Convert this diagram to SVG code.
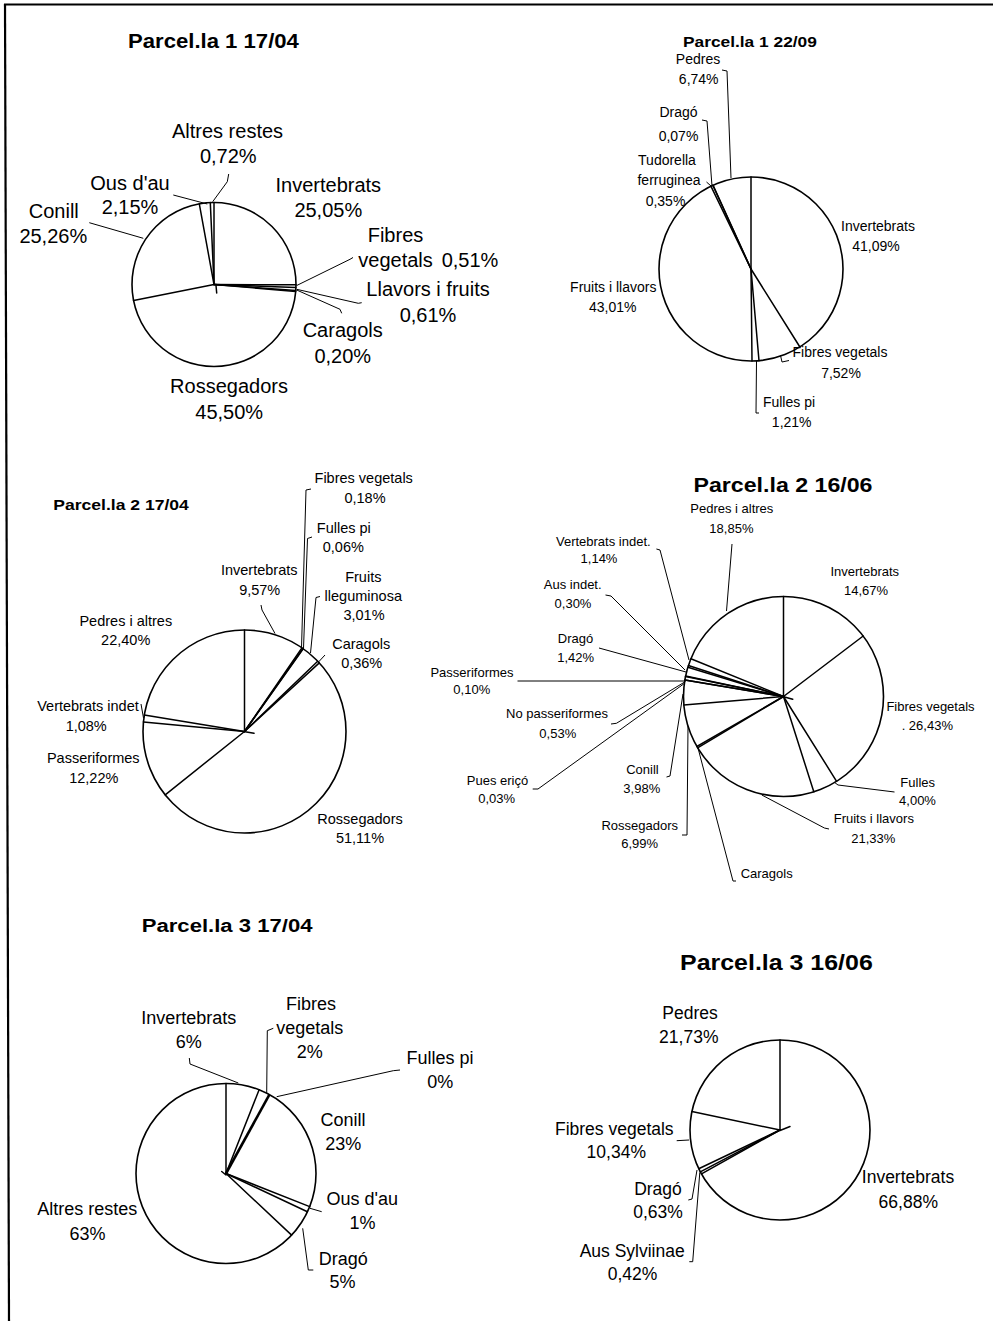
<svg xmlns="http://www.w3.org/2000/svg" width="993" height="1321" viewBox="0 0 993 1321">
<style>
.bg{fill:#fff}
.frame{stroke:#000;stroke-width:2.2;fill:none}
.pie{fill:#fff;stroke:#000;stroke-width:1.6}
.rad{stroke:#000;stroke-width:1.5;fill:none;stroke-linecap:round}
.thick{stroke:#000;stroke-width:2.6;fill:none}
.ld{stroke:#000;stroke-width:1;fill:none}
.t{font-family:"Liberation Sans",Arial,sans-serif;font-weight:bold;fill:#000}
.l{font-family:"Liberation Sans",Arial,sans-serif;fill:#000;text-anchor:middle}
.f20{font-size:20px}.f14{font-size:14px}.f145{font-size:14.5px}.f13{font-size:13px}.f18{font-size:18px}.f175{font-size:17.5px}
</style>
<rect class="bg" x="0" y="0" width="993" height="1321"/>
<g id="frame">
<line class="frame" x1="4" y1="4.5" x2="993" y2="4.5"/>
<line class="frame" x1="5" y1="4" x2="9" y2="1321"/>
</g>

<!-- Chart 1 -->
<g id="chart-p1-1704">
<text class="t" transform="translate(128,48.3) scale(1.106,1)" font-size="20">Parcel.la 1 17/04</text>
<circle class="pie" cx="214" cy="284.5" r="82"/>
<g id="p1a-slices">
<line class="rad" x1="214" y1="284.5" x2="214" y2="202.5"/>
<line class="rad" x1="214" y1="284.5" x2="296" y2="284.8"/>
<line class="rad" x1="214" y1="284.5" x2="295.9" y2="287.4"/>
<line class="rad" x1="214" y1="284.5" x2="295.8" y2="290.5"/>
<line class="rad" x1="214" y1="284.5" x2="295.7" y2="291.5"/>
<line class="rad" x1="214" y1="284.5" x2="133.6" y2="300.5"/>
<line class="rad" x1="214" y1="284.5" x2="199.3" y2="203.8"/>
<line class="rad" x1="214" y1="284.5" x2="210.3" y2="202.6"/>
<line class="rad" x1="216" y1="285.5" x2="216.7" y2="293"/>
</g>
<g id="p1a-connectors">
<polyline class="ld" points="228.7,174 227.3,181.7 212.7,201.7"/>
<line class="ld" x1="173.3" y1="195" x2="207.3" y2="204"/>
<line class="ld" x1="89.3" y1="222.7" x2="143.3" y2="238.3"/>
<polyline class="ld" points="353,257.5 350,259.3 296.7,285.5"/>
<polyline class="ld" points="361.7,302.7 358.3,303.3 296.7,289.3"/>
<polyline class="ld" points="341.7,313.3 340,309.3 296.7,290"/>
</g>
<g id="p1a-labels">
<text class="l f20" x="227.5" y="138.3">Altres restes</text>
<text class="l f20" x="228.3" y="163.3">0,72%</text>
<text class="l f20" x="328.3" y="191.7">Invertebrats</text>
<text class="l f20" x="328.3" y="216.7">25,05%</text>
<text class="l f20" x="395.5" y="241.7">Fibres</text>
<text class="l f20" x="358.3" y="266.7" style="text-anchor:start">vegetals<tspan x="441.7">0,51%</tspan></text>
<text class="l f20" x="428" y="296">Llavors i fruits</text>
<text class="l f20" x="428" y="321.7">0,61%</text>
<text class="l f20" x="342.7" y="337.3">Caragols</text>
<text class="l f20" x="342.8" y="362.7">0,20%</text>
<text class="l f20" x="229" y="393.3">Rossegadors</text>
<text class="l f20" x="229.2" y="419">45,50%</text>
<text class="l f20" x="53.8" y="218.3">Conill</text>
<text class="l f20" x="53.3" y="243.3">25,26%</text>
<text class="l f20" x="130" y="190">Ous d'au</text>
<text class="l f20" x="130" y="214">2,15%</text>
</g>
</g>

<!-- Chart 2 -->
<g id="chart-p1-2209">
<text class="t" transform="translate(683,47.3) scale(1.195,1)" font-size="14.5">Parcel.la 1 22/09</text>
<circle class="pie" cx="751" cy="269" r="92"/>
<g id="p1b-slices">
<line class="rad" x1="751" y1="269" x2="751" y2="177"/>
<line class="rad" x1="751" y1="269" x2="799.9" y2="347"/>
<line class="rad" x1="751" y1="269" x2="759" y2="360.7"/>
<line class="rad" x1="751" y1="269" x2="752" y2="361"/>
<line class="rad" x1="751" y1="269" x2="710.9" y2="186.2"/>
<line class="rad" x1="751" y1="269" x2="712.8" y2="185.3"/>
<line class="rad" x1="751" y1="269" x2="713.1" y2="185.2"/>
</g>
<g id="p1b-connectors">
<polyline class="ld" points="722,70 727,71 731,178"/>
<polyline class="ld" points="702,120 707,121 712,186"/>
<line class="ld" x1="706.5" y1="182" x2="711" y2="186"/>
<polyline class="ld" points="780.5,355.5 782,362 789,360.5"/>
<polyline class="ld" points="756.5,361 756,413 759,413"/>
</g>
<g id="p1b-labels">
<text class="l f14" x="698" y="64">Pedres</text>
<text class="l f14" x="698.7" y="84">6,74%</text>
<text class="l f14" x="678.5" y="117">Dragó</text>
<text class="l f14" x="678.5" y="141">0,07%</text>
<text class="l f14" x="667" y="165">Tudorella</text>
<text class="l f14" x="669" y="185">ferruginea</text>
<text class="l f14" x="665.5" y="206">0,35%</text>
<text class="l f14" x="878" y="231">Invertebrats</text>
<text class="l f14" x="876" y="251">41,09%</text>
<text class="l f14" x="613.3" y="291.7">Fruits i llavors</text>
<text class="l f14" x="612.7" y="311.7">43,01%</text>
<text class="l f14" x="840" y="356.7">Fibres vegetals</text>
<text class="l f14" x="841" y="378.3">7,52%</text>
<text class="l f14" x="789" y="406.7">Fulles pi</text>
<text class="l f14" x="791.7" y="427">1,21%</text>
</g>
</g>

<!-- Chart 3 -->
<g id="chart-p2-1704">
<text class="t" transform="translate(53.3,510) scale(1.17,1)" font-size="15">Parcel.la 2 17/04</text>
<circle class="pie" cx="244.5" cy="731.5" r="101.5"/>
<g id="p2a-slices">
<line class="rad" x1="244.5" y1="731.5" x2="244.5" y2="630"/>
<line class="rad" x1="244.5" y1="731.5" x2="301.9" y2="647.8"/>
<line class="rad" x1="244.5" y1="731.5" x2="302.9" y2="648.5"/>
<line class="rad" x1="244.5" y1="731.5" x2="303.2" y2="648.7"/>
<line class="rad" x1="244.5" y1="731.5" x2="317.7" y2="661.2"/>
<line class="rad" x1="244.5" y1="731.5" x2="319.3" y2="662.9"/>
<line class="rad" x1="244.5" y1="731.5" x2="165.2" y2="794.8"/>
<line class="rad" x1="244.5" y1="731.5" x2="143.5" y2="721.9"/>
<line class="rad" x1="244.5" y1="731.5" x2="144.3" y2="715.1"/>
<line class="rad" x1="245" y1="731.7" x2="254" y2="733.3"/>
</g>
<g id="p2a-connectors">
<polyline class="ld" points="311,489 306,490 301.5,648"/>
<polyline class="ld" points="312,537 307.5,538.5 303.5,648.5"/>
<polyline class="ld" points="261,605 262,610 275,633.5"/>
<polyline class="ld" points="320,596.5 316,597.5 310.5,653"/>
<line class="ld" x1="325" y1="655" x2="318.5" y2="662"/>
<line class="ld" x1="141" y1="704" x2="143.5" y2="718"/>
</g>
<g id="p2a-labels">
<text class="l f145" x="363.7" y="483.3">Fibres vegetals</text>
<text class="l f145" x="365" y="503.3">0,18%</text>
<text class="l f145" x="343.8" y="533.3">Fulles pi</text>
<text class="l f145" x="343.3" y="551.7">0,06%</text>
<text class="l f145" x="259.2" y="575">Invertebrats</text>
<text class="l f145" x="259.7" y="595">9,57%</text>
<text class="l f145" x="363.3" y="581.7">Fruits</text>
<text class="l f145" x="363.3" y="600.7">lleguminosa</text>
<text class="l f145" x="364" y="620">3,01%</text>
<text class="l f145" x="361.2" y="649.3">Caragols</text>
<text class="l f145" x="361.7" y="668.3">0,36%</text>
<text class="l f145" x="125.8" y="626">Pedres i altres</text>
<text class="l f145" x="125.7" y="645">22,40%</text>
<text class="l f145" x="88" y="710.7">Vertebrats indet</text>
<text class="l f145" x="86.2" y="730.7">1,08%</text>
<text class="l f145" x="93.3" y="763.3">Passeriformes</text>
<text class="l f145" x="93.8" y="783.3">12,22%</text>
<text class="l f145" x="360" y="824">Rossegadors</text>
<text class="l f145" x="360" y="843.3">51,11%</text>
</g>
</g>

<!-- Chart 4 -->
<g id="chart-p2-1606">
<text class="t" transform="translate(693.5,491.7) scale(1.188,1)" font-size="19.5">Parcel.la 2 16/06</text>
<circle class="pie" cx="783.5" cy="696.5" r="100"/>
<g id="p2b-slices">
<line class="rad" x1="783.5" y1="696.5" x2="783.5" y2="596.5"/>
<line class="rad" x1="783.5" y1="696.5" x2="863.2" y2="636"/>
<line class="rad" x1="783.5" y1="696.5" x2="836.6" y2="781.3"/>
<line class="rad" x1="783.5" y1="696.5" x2="813.8" y2="791.8"/>
<line class="rad" x1="783.5" y1="696.5" x2="697.6" y2="747.8"/>
<line class="rad" x1="783.5" y1="696.5" x2="696.9" y2="746.5"/>
<line class="rad" x1="783.5" y1="696.5" x2="683.9" y2="705"/>
<line class="rad" x1="783.5" y1="696.5" x2="684.9" y2="680"/>
<line class="rad" x1="783.5" y1="696.5" x2="684.9" y2="679.9"/>
<line class="rad" x1="783.5" y1="696.5" x2="685.5" y2="676.6"/>
<line class="rad" x1="783.5" y1="696.5" x2="685.6" y2="676"/>
<line class="rad" x1="783.5" y1="696.5" x2="687.9" y2="667.3"/>
<line class="rad" x1="783.5" y1="696.5" x2="688.4" y2="665.5"/>
<line class="rad" x1="783.5" y1="696.5" x2="690.9" y2="658.8"/>
<line class="rad" x1="783.6" y1="696.7" x2="792.7" y2="699.3"/>
</g>
<g id="p2b-connectors">
<line class="ld" x1="732" y1="544" x2="726.5" y2="611"/>
<polyline class="ld" points="656.4,549 660,550 689,660"/>
<polyline class="ld" points="605.5,595 611,596 685,670"/>
<line class="ld" x1="599" y1="648" x2="686" y2="672"/>
<line class="ld" x1="517.5" y1="681" x2="684" y2="681"/>
<polyline class="ld" points="611,724 616.4,723.3 685.5,681.5"/>
<polyline class="ld" points="532.7,789 538,789 685,683"/>
<polyline class="ld" points="666.5,777 670,776 683,694"/>
<polyline class="ld" points="682,835 687,835 688,726"/>
<polyline class="ld" points="736,881 733,881 698,748"/>
<polyline class="ld" points="761.8,795 824.4,828 829,829"/>
<polyline class="ld" points="894.5,792 838,785 834,782"/>
</g>
<g id="p2b-labels">
<text class="l f13" x="731.8" y="513.3">Pedres i altres</text>
<text class="l f13" x="731.4" y="532.7">18,85%</text>
<text class="l f13" x="603.3" y="546">Vertebrats indet.</text>
<text class="l f13" x="599" y="562.7">1,14%</text>
<text class="l f13" x="572.7" y="589.3">Aus indet.</text>
<text class="l f13" x="573" y="608.3">0,30%</text>
<text class="l f13" x="575.5" y="643.3">Dragó</text>
<text class="l f13" x="575.6" y="661.7">1,42%</text>
<text class="l f13" x="472" y="676.7">Passeriformes</text>
<text class="l f13" x="471.8" y="694">0,10%</text>
<text class="l f13" x="557" y="718.3">No passeriformes</text>
<text class="l f13" x="557.8" y="738.3">0,53%</text>
<text class="l f13" x="497.5" y="785">Pues eriçó</text>
<text class="l f13" x="496.7" y="803.3">0,03%</text>
<text class="l f13" x="642.5" y="774">Conill</text>
<text class="l f13" x="641.8" y="792.7">3,98%</text>
<text class="l f13" x="639.7" y="830">Rossegadors</text>
<text class="l f13" x="639.6" y="848.3">6,99%</text>
<text class="l f13" x="766.7" y="878.3">Caragols</text>
<text class="l f13" x="873.8" y="823.3">Fruits i llavors</text>
<text class="l f13" x="873.3" y="842.7">21,33%</text>
<text class="l f13" x="917.7" y="786.7">Fulles</text>
<text class="l f13" x="917.5" y="805">4,00%</text>
<text class="l f13" x="930.5" y="710.7">Fibres vegetals</text>
<text class="l f13" x="927.3" y="730">. 26,43%</text>
<text class="l f13" x="864.8" y="576">Invertebrats</text>
<text class="l f13" x="866" y="595">14,67%</text>
</g>
</g>

<!-- Chart 5 -->
<g id="chart-p3-1704">
<text class="t" transform="translate(141.7,931.7) scale(1.164,1)" font-size="19">Parcel.la 3 17/04</text>
<circle class="pie" cx="226" cy="1173.5" r="90"/>
<g id="p3a-slices">
<line class="rad" x1="226" y1="1173.5" x2="226" y2="1083.5"/>
<line class="rad" x1="226" y1="1173.5" x2="259.1" y2="1089.8"/>
<line class="thick" x1="226" y1="1173.5" x2="269.4" y2="1094.6"/>
<line class="rad" x1="226" y1="1173.5" x2="309.7" y2="1206.6"/>
<line class="rad" x1="226" y1="1173.5" x2="307.4" y2="1211.8"/>
<line class="rad" x1="226" y1="1173.5" x2="291.6" y2="1235.1"/>
<line class="rad" x1="221.7" y1="1171.5" x2="226" y2="1175"/>
</g>
<g id="p3a-connectors">
<polyline class="ld" points="189.3,1058 190,1064 238.3,1083"/>
<polyline class="ld" points="273.3,1028.3 267.3,1030.7 266.7,1093"/>
<polyline class="ld" points="400,1070 393.3,1070.7 276.7,1096.7"/>
<line class="ld" x1="321.7" y1="1211.7" x2="310" y2="1208.3"/>
<polyline class="ld" points="313.3,1270 308.3,1270 302.7,1228.3"/>
</g>
<g id="p3a-labels">
<text class="l f18" x="188.8" y="1024">Invertebrats</text>
<text class="l f18" x="188.8" y="1048.3">6%</text>
<text class="l f18" x="311" y="1010">Fibres</text>
<text class="l f18" x="309.7" y="1034">vegetals</text>
<text class="l f18" x="309.7" y="1058.3">2%</text>
<text class="l f18" x="440" y="1064">Fulles pi</text>
<text class="l f18" x="440.3" y="1088.3">0%</text>
<text class="l f18" x="343" y="1126">Conill</text>
<text class="l f18" x="343.3" y="1150">23%</text>
<text class="l f18" x="362.2" y="1205">Ous d'au</text>
<text class="l f18" x="362.5" y="1229.3">1%</text>
<text class="l f18" x="343.3" y="1265">Dragó</text>
<text class="l f18" x="342.5" y="1288.3">5%</text>
<text class="l f18" x="87.2" y="1215">Altres restes</text>
<text class="l f18" x="87.5" y="1240">63%</text>
</g>
</g>

<!-- Chart 6 -->
<g id="chart-p3-1606">
<text class="t" transform="translate(680,970) scale(1.085,1)" font-size="23">Parcel.la 3 16/06</text>
<circle class="pie" cx="780" cy="1130" r="90"/>
<g id="p3b-slices">
<line class="rad" x1="780" y1="1130" x2="780" y2="1040"/>
<line class="rad" x1="780" y1="1130" x2="701.5" y2="1173.9"/>
<line class="rad" x1="780" y1="1130" x2="700.3" y2="1171.9"/>
<line class="rad" x1="780" y1="1130" x2="698.7" y2="1168.7"/>
<line class="rad" x1="780" y1="1130" x2="691.9" y2="1111.6"/>
<line class="rad" x1="780" y1="1130.5" x2="790" y2="1126.5"/>
</g>
<g id="p3b-connectors">
<line class="ld" x1="676.7" y1="1140.7" x2="689" y2="1140"/>
<polyline class="ld" points="688.3,1200 692,1199 697,1170"/>
<polyline class="ld" points="689.3,1261.7 692.7,1261.7 699.8,1172.5"/>
</g>
<g id="p3b-labels">
<text class="l f175" x="690" y="1019.3">Pedres</text>
<text class="l f175" x="688.8" y="1042.7">21,73%</text>
<text class="l f175" x="614.3" y="1135">Fibres vegetals</text>
<text class="l f175" x="616.3" y="1158.3">10,34%</text>
<text class="l f175" x="658" y="1195">Dragó</text>
<text class="l f175" x="658" y="1218.3">0,63%</text>
<text class="l f175" x="632.2" y="1256.7">Aus Sylviinae</text>
<text class="l f175" x="632.5" y="1280">0,42%</text>
<text class="l f175" x="908" y="1183.3">Invertebrats</text>
<text class="l f175" x="908.3" y="1208.3">66,88%</text>
</g>
</g>
</svg>
